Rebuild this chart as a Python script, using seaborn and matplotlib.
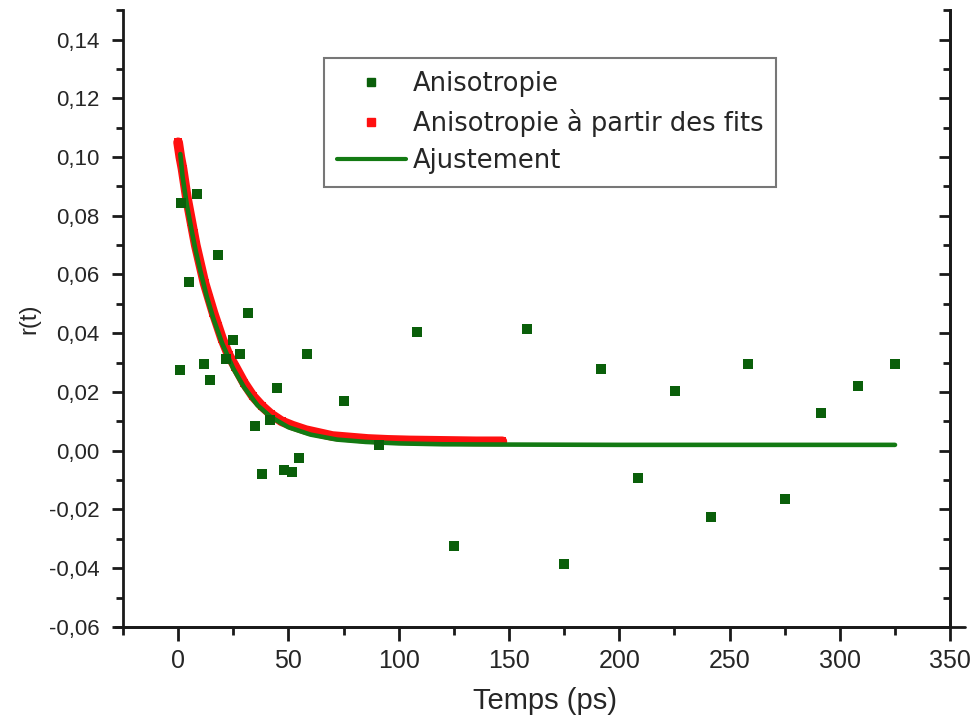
import numpy as np
import pandas as pd
import seaborn as sns
import matplotlib.pyplot as plt
from matplotlib.ticker import MultipleLocator, FuncFormatter
from matplotlib.lines import Line2D

# measured anisotropy points (ps, r)
t_meas = [0.9, 1.5, 4.8, 8.6, 11.6, 14.6, 18.3, 21.5, 25.1, 28.1, 31.6, 34.9,
          38.2, 41.7, 44.9, 48.2, 51.8, 55.0, 58.3, 75.1, 91.1, 108.4, 124.9,
          158.2, 175.1, 191.6, 208.3, 225.1, 241.6, 258.3, 275.0, 291.5, 308.2, 325.0]
r_meas = [0.0274, 0.0842, 0.0573, 0.0873, 0.0295, 0.0242, 0.0667, 0.0312, 0.0377,
          0.0331, 0.0468, 0.0085, -0.0078, 0.0105, 0.0212, -0.0065, -0.0072, -0.0026,
          0.0331, 0.0171, 0.0020, 0.0405, -0.0325, 0.0414, -0.0387, 0.0277, -0.0094,
          0.0204, -0.0224, 0.0296, -0.0163, 0.0129, 0.0219, 0.0295]

# anisotropy from the fits (red squares)
t_fits = [0, 1, 2, 3, 4, 5, 6, 7, 8, 10, 12, 14, 16, 18, 20, 23, 26, 30, 34, 38,
          42, 47, 52, 58, 64, 70, 78, 86, 95, 105, 115, 125, 135, 147]
r_fits = [0.105, 0.100, 0.096, 0.091, 0.086, 0.082, 0.078, 0.074, 0.070, 0.0635,
          0.057, 0.052, 0.047, 0.0425, 0.038, 0.0325, 0.0285, 0.023, 0.0185, 0.0152,
          0.0125, 0.010, 0.0085, 0.007, 0.006, 0.005, 0.0045, 0.004, 0.0037, 0.0035,
          0.0034, 0.0033, 0.0032, 0.0032]

# fitted curve (Ajustement)
t_adj = [1, 2, 4, 6, 8, 10, 13, 16, 20, 25, 30, 36, 42, 50, 60, 72, 85, 100,
         120, 150, 200, 325]
r_adj = [0.101, 0.0935, 0.0835, 0.0755, 0.068, 0.0615, 0.0525, 0.045, 0.0365,
         0.028, 0.0215, 0.0155, 0.0115, 0.008, 0.0055, 0.0038, 0.003, 0.0025,
         0.0022, 0.0021, 0.002, 0.002]

meas = pd.DataFrame({"t": t_meas, "r": r_meas})
fits = pd.DataFrame({"t": t_fits, "r": r_fits})
adj = pd.DataFrame({"t": t_adj, "r": r_adj})

sns.set_style("white")
plt.rcParams['font.family'] = ['Liberation Sans', 'DejaVu Sans']

dark_green = "#0a5f0a"
line_green = "#137a13"
red = "#ff1010"
axis_col = "#1a1a1a"

fig = plt.figure(figsize=(9.72, 7.24), dpi=100)
ax = fig.add_axes([0.1265, 0.134, 0.851, 0.852])

# red band + squares
sns.lineplot(data=fits, x="t", y="r", ax=ax, color=red, linewidth=7, sort=False, zorder=2)
sns.scatterplot(data=fits, x="t", y="r", ax=ax, color=red, marker="s", s=40,
                edgecolor=red, linewidth=0, zorder=2)
sns.lineplot(data=adj, x="t", y="r", ax=ax, color=line_green, linewidth=3.3, sort=False, zorder=3)
sns.scatterplot(data=meas, x="t", y="r", ax=ax, color=dark_green, marker="s", s=42,
                edgecolor=dark_green, linewidth=0, zorder=4)

ax.set_xlim(-25, 350)
ax.set_ylim(-0.06, 0.15)
ax.xaxis.set_major_locator(MultipleLocator(50))
ax.xaxis.set_minor_locator(MultipleLocator(25))
ax.yaxis.set_major_locator(MultipleLocator(0.02))
ax.yaxis.set_minor_locator(MultipleLocator(0.01))
ax.yaxis.set_major_formatter(FuncFormatter(lambda v, p: f"{v:.2f}".replace(".", ",").replace("-0,00", "0,00")))

ax.spines["top"].set_visible(False)
for s in ["left", "bottom", "right"]:
    ax.spines[s].set_linewidth(2)
    ax.spines[s].set_color(axis_col)

ax.tick_params(axis="x", which="major", direction="out", length=10, width=2, labelsize=18, pad=6,
               bottom=True, color=axis_col)
ax.tick_params(axis="x", which="minor", direction="out", length=6, width=2, bottom=True, color=axis_col)
ax.tick_params(axis="y", which="major", direction="out", length=8, width=2, labelsize=16, pad=9,
               left=True, color=axis_col)
ax.tick_params(axis="y", which="minor", direction="out", length=5, width=2, left=True, color=axis_col)

# right axis with inward ticks
ax2 = ax.twinx()
ax2.set_ylim(ax.get_ylim())
ax2.yaxis.set_major_locator(MultipleLocator(0.02))
ax2.yaxis.set_minor_locator(MultipleLocator(0.01))
ax2.tick_params(axis="y", which="major", direction="in", length=8, width=2, labelright=False,
                right=True, color=axis_col)
ax2.tick_params(axis="y", which="minor", direction="in", length=5, width=2, right=True, color=axis_col)
for s in ["top", "left", "bottom"]:
    ax2.spines[s].set_visible(False)
ax2.spines["right"].set_linewidth(2)
ax2.spines["right"].set_color(axis_col)

# bottom axis line sticks out a little on both sides
ax.plot([-0.01, 1.018], [0, 0], transform=ax.transAxes, color=axis_col, lw=2, clip_on=False)

ax.set_xlabel("Temps (ps)", fontsize=21)
ax.xaxis.set_label_coords(0.51, -0.097)
ax.set_ylabel("r(t)", fontsize=17, labelpad=6)

handles = [
    Line2D([], [], linestyle="none", marker="s", color=dark_green, markersize=6),
    Line2D([], [], linestyle="none", marker="s", color=red, markersize=6),
    Line2D([], [], color=line_green, linewidth=3),
]
labels = ["Anisotropie", "Anisotropie à partir des fits", "Ajustement"]
leg = ax.legend(handles, labels, loc="upper left", bbox_to_anchor=(0.243, 0.922),
                prop={"family": "DejaVu Sans", "size": 18.5}, frameon=True, fancybox=False,
                edgecolor="#555555", handlelength=2.7, handletextpad=0.25,
                borderpad=0.5, borderaxespad=0, labelspacing=0.45)
leg.get_frame().set_linewidth(1.5)

fig.savefig("out.png", dpi=100)
